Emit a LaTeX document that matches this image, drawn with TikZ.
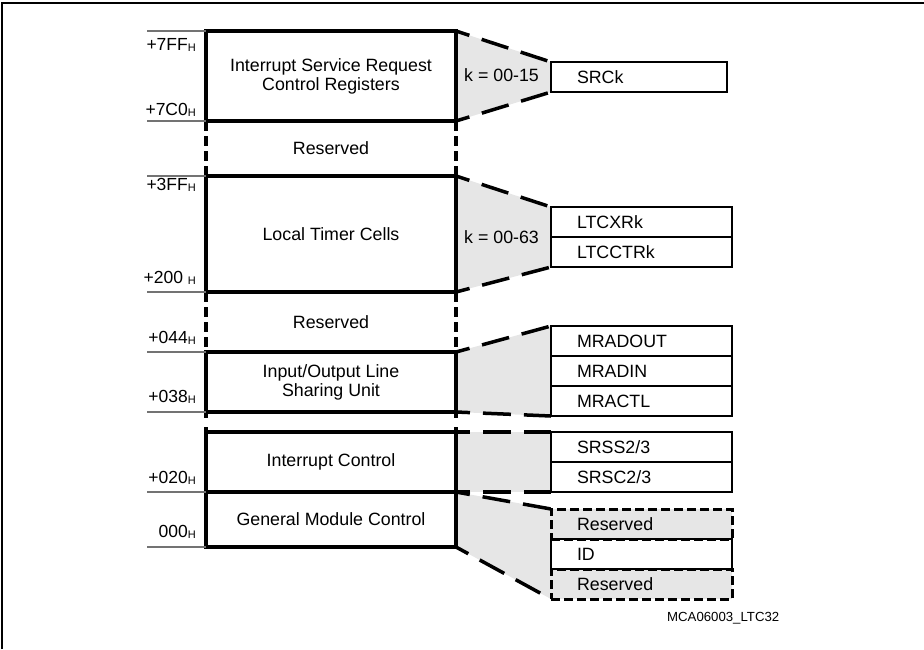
\documentclass[tikz,border=0pt]{standalone}
\usepackage{fontspec}
\setmainfont{Liberation Sans}
\usetikzlibrary{backgrounds}
\definecolor{gfill}{HTML}{E6E6E6}
\newcommand{\subH}{\raisebox{-1.8pt}{\fontsize{11}{12}\selectfont H}}
\begin{document}
\begin{tikzpicture}[x=1pt,y=-1pt,
  txt/.style={font=\fontsize{17.8}{19}\selectfont},
  row/.style={txt, anchor=north west, minimum width=250pt, inner sep=0pt, outer sep=0pt, align=center},
  colline/.style={line width=3.1pt},
  coldash/.style={line width=3.4pt, dash pattern=on 10pt off 5pt},
  gapdash/.style={line width=3.4pt, dash pattern=on 6pt off 9pt on 6pt off 0pt},
  tick/.style={draw=black!55, line width=1.1pt},
  reg/.style={draw, line width=2.5pt, txt, anchor=north west, inner xsep=0pt, inner ysep=0pt, outer sep=0pt, minimum height=30pt, text height=12.8pt, text depth=0pt, align=left, text width=181pt},
  resv/.style={reg, fill=gfill, line width=3pt, dash pattern=on 9pt off 4pt},
  fdash/.style={line width=3.5pt, dash pattern=on 28pt off 13pt, dash phase=14pt},
  addr/.style={font=\fontsize{17.5}{19}\selectfont, anchor=base east, inner sep=0pt},
  klab/.style={txt, anchor=base west, inner sep=0pt},
  note/.style={font=\fontsize{13.2}{15}\selectfont, anchor=base west, inner sep=0pt},
  frame/.style={line width=1.3pt}
]
\useasboundingbox (0,0) rectangle (924,649);
\draw[frame] (2,649) -- (2,3) -- (924,3);

% column rows
\node[row, minimum height=90pt] (isr) at (206,31) {Interrupt Service Request\\Control Registers};
\node[row, minimum height=55pt] (res1) at (206,121) {Reserved};
\node[row, minimum height=116pt] (ltc) at (206,176) {Local Timer Cells};
\node[row, minimum height=60pt] (res2) at (206,292) {Reserved};
\node[row, minimum height=60pt] (io) at (206,352) {Input/Output Line\\Sharing Unit};
\node[row, minimum height=20pt] (gap) at (206,412) {};
\node[row, minimum height=60pt] (ic) at (206,432) {Interrupt Control};
\node[row, minimum height=55pt] (gmc) at (206,492) {General Module Control};

% registers
\node[reg, text width=176pt] (srck) at (551,62) {\hspace*{26pt}SRCk};
\node[reg] (ltcx) at (551,207) {\hspace*{26pt}LTCXRk};
\node[reg] (ltcc) at (551,237) {\hspace*{26pt}LTCCTRk};
\node[reg] (mrado) at (551,326) {\hspace*{26pt}MRADOUT};
\node[reg] (mradi) at (551,356) {\hspace*{26pt}MRADIN};
\node[reg] (mract) at (551,386) {\hspace*{26pt}MRACTL};
\node[reg] (srss) at (551,432) {\hspace*{26pt}SRSS2/3};
\node[reg] (srsc) at (551,462) {\hspace*{26pt}SRSC2/3};
\node[resv] (resa) at (551,509) {\hspace*{26pt}Reserved};
\node[resv] (resb) at (551,569) {\hspace*{26pt}Reserved};
\node[reg] (id) at (551,539) {\hspace*{26pt}ID};

% funnel fills
\begin{scope}[on background layer]
\fill[gfill] (isr.north east) -- (srck.north west) -- (srck.south west) -- (isr.south east) -- cycle;
\fill[gfill] (ltc.north east) -- (ltcx.north west) -- (ltcc.south west) -- (ltc.south east) -- cycle;
\fill[gfill] (io.north east) -- (mrado.north west) -- (mract.south west) -- (io.south east) -- cycle;
\fill[gfill] (ic.north east) -- (srss.north west) -- (srsc.south west) -- (ic.south east) -- cycle;
\fill[gfill] (gmc.north east) -- (resa.north west) -- (resb.south west) -- (gmc.south east) -- cycle;
\end{scope}

% funnel dashed edges
\draw[fdash] (isr.north east) -- (srck.north west);
\draw[fdash] (isr.south east) -- (srck.south west);
\draw[fdash] (ltc.north east) -- (ltcx.north west);
\draw[fdash] (ltc.south east) -- (ltcc.south west);
\draw[fdash] (io.north east) -- (mrado.north west);
\draw[fdash] (io.south east) -- (mract.south west);
\draw[fdash] (ic.north east) -- (srss.north west);
\draw[fdash] (ic.south east) -- (srsc.south west);
\draw[fdash] (gmc.north east) -- (resa.north west);
\draw[fdash] (gmc.south east) -- (resb.south west);

% column borders
\draw[colline] (isr.north west) rectangle (isr.south east);
\draw[colline] (ltc.north west) rectangle (ltc.south east);
\draw[colline] (io.north west) rectangle (io.south east);
\draw[colline] (ic.north west) rectangle (ic.south east);
\draw[colline] (gmc.north west) rectangle (gmc.south east);
\draw[coldash] (res1.north west) -- (res1.south west) (res1.north east) -- (res1.south east);
\draw[coldash] (res2.north west) -- (res2.south west) (res2.north east) -- (res2.south east);
\draw[gapdash] (gap.north west) -- (gap.south west) (gap.north east) -- (gap.south east);

% address ticks
\foreach \a in {isr.north west, isr.south west, res1.south west, ltc.south west, res2.south west, io.south west, ic.south west, gmc.south west}
  \draw[tick] (\a) -- ++(-59,0);

% address labels
\node[addr] (a7ff) at (196,50) {+7FF\subH};
\node[addr] (a7c0) at (196,115) {+7C0\subH};
\node[addr] (a3ff) at (196,190) {+3FF\subH};
\node[addr] (a200) at (196,283) {+200 \subH};
\node[addr] (a044) at (196,343) {+044\subH};
\node[addr] (a038) at (196,402) {+038\subH};
\node[addr] (a020) at (196,483) {+020\subH};
\node[addr] (a000) at (196,537) {000\subH};

% range labels
\node[klab] (k1) at (464,81.5) {k = 00-15};
\node[klab] (k2) at (464,243) {k = 00-63};

\node[note] (fig) at (667,621) {MCA06003\_LTC32};
\end{tikzpicture}
\end{document}
